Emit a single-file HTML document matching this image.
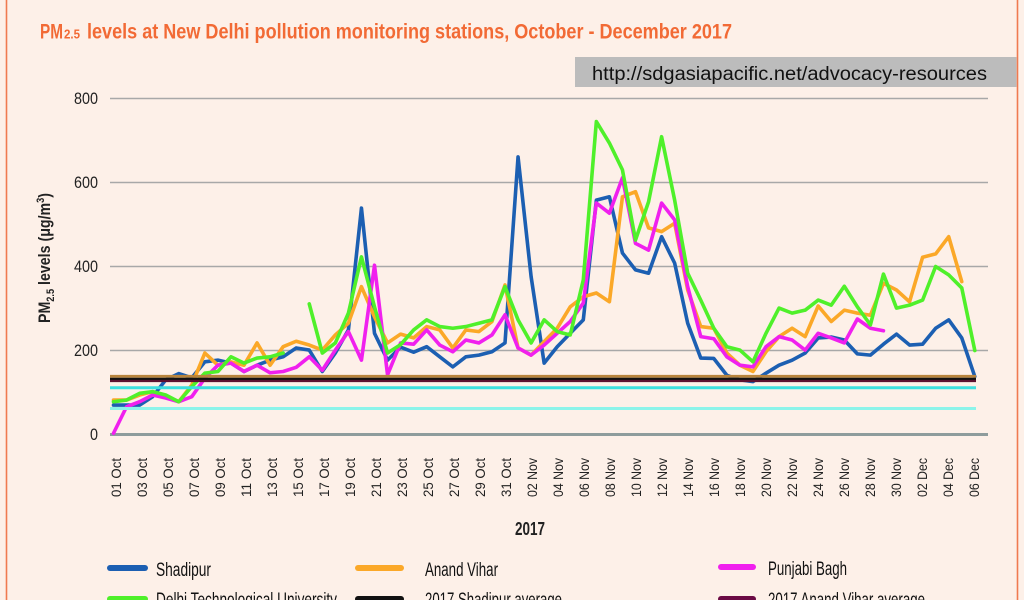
<!DOCTYPE html>
<html><head><meta charset="utf-8"><style>
html,body{margin:0;padding:0;background:#fdf0e8;}
svg{display:block;}
text{font-family:"Liberation Sans Narrow","Liberation Sans",sans-serif;}
</style></head><body>
<svg width="1024" height="600" viewBox="0 0 1024 600" xmlns="http://www.w3.org/2000/svg">
<rect width="1024" height="600" fill="#fdf0e8"/>
<line x1="6.5" y1="0" x2="6.5" y2="600" stroke="#f07a50" stroke-width="1.6"/>
<line x1="1017.5" y1="0" x2="1017.5" y2="600" stroke="#f07a50" stroke-width="1.6"/>
<!-- title -->
<text x="40" y="38.5" font-size="21" font-weight="bold" fill="#f26a35" textLength="23" lengthAdjust="spacingAndGlyphs">PM</text>
<text x="64" y="38.5" font-size="13" font-weight="bold" fill="#f26a35" textLength="16" lengthAdjust="spacingAndGlyphs">2.5</text>
<text x="87" y="38.5" font-size="21" font-weight="bold" fill="#f26a35" textLength="645" lengthAdjust="spacingAndGlyphs">levels at New Delhi pollution monitoring stations, October - December 2017</text>
<!-- url box -->
<rect x="575" y="57" width="441.5" height="30" fill="#bcbcbc"/>
<text x="592" y="80" font-size="19" fill="#111" textLength="395" lengthAdjust="spacingAndGlyphs">http://sdgasiapacific.net/advocacy-resources</text>
<!-- gridlines -->
<g stroke="#a8a8a8" stroke-width="1.6">
<line x1="110" y1="98.5" x2="988" y2="98.5"/>
<line x1="110" y1="182.5" x2="988" y2="182.5"/>
<line x1="110" y1="266.5" x2="988" y2="266.5"/>
<line x1="110" y1="350.5" x2="988" y2="350.5"/>
</g>
<line x1="110" y1="434.5" x2="988" y2="434.5" stroke="#8e9c9c" stroke-width="3"/>
<!-- y labels -->
<g font-size="17" fill="#222" text-anchor="end">
<text x="98" y="104" textLength="24" lengthAdjust="spacingAndGlyphs">800</text>
<text x="98" y="188" textLength="24" lengthAdjust="spacingAndGlyphs">600</text>
<text x="98" y="272" textLength="24" lengthAdjust="spacingAndGlyphs">400</text>
<text x="98" y="356" textLength="24" lengthAdjust="spacingAndGlyphs">200</text>
<text x="98" y="440" textLength="8" lengthAdjust="spacingAndGlyphs">0</text>
</g>
<!-- y title -->
<text transform="translate(50,258) rotate(-90)" text-anchor="middle" font-size="17" font-weight="bold" fill="#222" textLength="130" lengthAdjust="spacingAndGlyphs">PM<tspan font-size="11" dy="4">2.5</tspan><tspan dy="-4"> levels (μg/m</tspan><tspan font-size="11" dy="-6">3</tspan><tspan dy="6">)</tspan></text>
<!-- series -->
<g transform="translate(113.5,434.5) scale(13.05,-0.42)" fill="none" stroke-linejoin="round" stroke-linecap="round">
<polyline vector-effect="non-scaling-stroke" stroke="#1c5fb2" stroke-width="3.6" points="0,70 1,70 2,70 3,90 4,130 5,145 6,135 7,173 8,177 9,170 10,150 11,165 12,177 13,185 14,206 15,201 16,150 17,194 18,249 19,539 20,241 21,177 22,208 23,196 24,209 25,185 26,161 27,185 28,189 29,197 30,218 31,661 32,376 33,170 34,209 35,241 36,273 37,558 38,566 39,432 40,392 41,384 42,471 43,408 44,265 45,182 46,181 47,141 48,130 49,126 50,146 51,165 52,177 53,194 54,230 55,232 56,225 57,192 58,189 59,215 60,239 61,213 62,215 63,253 64,273 65,230 66,138"/>
<polyline vector-effect="non-scaling-stroke" stroke="#fba828" stroke-width="3.6" points="0,82 1,82 2,94 3,102 4,90 5,78 6,118 7,194 8,165 9,173 10,165 11,218 12,165 13,209 14,222 15,213 16,201 17,237 18,265 19,352 20,280 21,218 22,239 23,230 24,257 25,249 26,206 27,249 28,245 29,269 30,356 31,206 32,189 33,221 34,253 35,304 36,328 37,337 38,316 39,566 40,578 41,492 42,483 43,503 44,344 45,257 46,253 47,194 48,165 49,150 50,197 51,233 52,253 53,233 54,306 55,269 56,296 57,289 58,284 59,360 60,344 61,316 62,422 63,430 64,471 65,364"/>
<polyline vector-effect="non-scaling-stroke" stroke="#f020ee" stroke-width="3.6" points="0,3 1,66 2,78 3,94 4,87 5,78 6,90 7,134 8,165 9,170 10,150 11,165 12,147 13,150 14,160 15,185 16,153 17,201 18,245 19,177 20,403 21,142 22,218 23,215 24,249 25,213 26,197 27,225 28,218 29,237 30,285 31,206 32,189 33,213 34,241 35,269 36,313 37,551 38,527 39,611 40,455 41,439 42,551 43,511 44,352 45,233 46,228 47,185 48,165 49,161 50,209 51,233 52,225 53,201 54,241 55,230 56,218 57,275 58,253 59,247"/>
<polyline vector-effect="non-scaling-stroke" stroke="#4ff02a" stroke-width="3.6" points="0,78 1,82 2,98 3,102 4,94 5,78 6,114 7,146 8,150 9,185 10,170 11,182 12,185 13,194"/>
<polyline vector-effect="non-scaling-stroke" stroke="#4ff02a" stroke-width="3.6" points="15,311 16,194 17,218 18,289 19,423 20,304 21,194 22,214 23,249 24,273 25,257 26,253 27,257 28,265 29,273 30,352 31,273 32,218 33,273 34,245 35,237 36,368 37,745 38,694 39,630 40,463 41,554 42,709 43,558 44,384 45,320 46,253 47,209 48,201 49,173 50,241 51,301 52,289 53,296 54,320 55,308 56,353 57,304 58,261 59,382 60,301 61,308 62,320 63,400 64,380 65,349 66,200"/>
</g>
<!-- averages -->
<line x1="110" y1="408.5" x2="976" y2="408.5" stroke="#8cf4ea" stroke-width="3"/>
<line x1="110" y1="387.8" x2="976" y2="387.8" stroke="#3ddede" stroke-width="3"/>
<line x1="110" y1="376.3" x2="976" y2="376.3" stroke="#b8843c" stroke-width="2.8"/>
<line x1="110" y1="379" x2="976" y2="379" stroke="#111" stroke-width="2.5"/>
<line x1="110" y1="381" x2="976" y2="381" stroke="#5c1030" stroke-width="2.2"/>
<!-- x labels -->
<g font-size="14" fill="#222" text-anchor="end">
<text transform="translate(121,458) rotate(-90)" textLength="39" lengthAdjust="spacingAndGlyphs">01 Oct</text>
<text transform="translate(147,458) rotate(-90)" textLength="39" lengthAdjust="spacingAndGlyphs">03 Oct</text>
<text transform="translate(173,458) rotate(-90)" textLength="39" lengthAdjust="spacingAndGlyphs">05 Oct</text>
<text transform="translate(199,458) rotate(-90)" textLength="39" lengthAdjust="spacingAndGlyphs">07 Oct</text>
<text transform="translate(225,458) rotate(-90)" textLength="39" lengthAdjust="spacingAndGlyphs">09 Oct</text>
<text transform="translate(251,458) rotate(-90)" textLength="39" lengthAdjust="spacingAndGlyphs">11 Oct</text>
<text transform="translate(277,458) rotate(-90)" textLength="39" lengthAdjust="spacingAndGlyphs">13 Oct</text>
<text transform="translate(303,458) rotate(-90)" textLength="39" lengthAdjust="spacingAndGlyphs">15 Oct</text>
<text transform="translate(329,458) rotate(-90)" textLength="39" lengthAdjust="spacingAndGlyphs">17 Oct</text>
<text transform="translate(355,458) rotate(-90)" textLength="39" lengthAdjust="spacingAndGlyphs">19 Oct</text>
<text transform="translate(381,458) rotate(-90)" textLength="39" lengthAdjust="spacingAndGlyphs">21 Oct</text>
<text transform="translate(407,458) rotate(-90)" textLength="39" lengthAdjust="spacingAndGlyphs">23 Oct</text>
<text transform="translate(433,458) rotate(-90)" textLength="39" lengthAdjust="spacingAndGlyphs">25 Oct</text>
<text transform="translate(459,458) rotate(-90)" textLength="39" lengthAdjust="spacingAndGlyphs">27 Oct</text>
<text transform="translate(485,458) rotate(-90)" textLength="39" lengthAdjust="spacingAndGlyphs">29 Oct</text>
<text transform="translate(511,458) rotate(-90)" textLength="39" lengthAdjust="spacingAndGlyphs">31 Oct</text>
<text transform="translate(537,458) rotate(-90)" textLength="39" lengthAdjust="spacingAndGlyphs">02 Nov</text>
<text transform="translate(563,458) rotate(-90)" textLength="39" lengthAdjust="spacingAndGlyphs">04 Nov</text>
<text transform="translate(589,458) rotate(-90)" textLength="39" lengthAdjust="spacingAndGlyphs">06 Nov</text>
<text transform="translate(615,458) rotate(-90)" textLength="39" lengthAdjust="spacingAndGlyphs">08 Nov</text>
<text transform="translate(641,458) rotate(-90)" textLength="39" lengthAdjust="spacingAndGlyphs">10 Nov</text>
<text transform="translate(667,458) rotate(-90)" textLength="39" lengthAdjust="spacingAndGlyphs">12 Nov</text>
<text transform="translate(693,458) rotate(-90)" textLength="39" lengthAdjust="spacingAndGlyphs">14 Nov</text>
<text transform="translate(719,458) rotate(-90)" textLength="39" lengthAdjust="spacingAndGlyphs">16 Nov</text>
<text transform="translate(745,458) rotate(-90)" textLength="39" lengthAdjust="spacingAndGlyphs">18 Nov</text>
<text transform="translate(771,458) rotate(-90)" textLength="39" lengthAdjust="spacingAndGlyphs">20 Nov</text>
<text transform="translate(797,458) rotate(-90)" textLength="39" lengthAdjust="spacingAndGlyphs">22 Nov</text>
<text transform="translate(823,458) rotate(-90)" textLength="39" lengthAdjust="spacingAndGlyphs">24 Nov</text>
<text transform="translate(849,458) rotate(-90)" textLength="39" lengthAdjust="spacingAndGlyphs">26 Nov</text>
<text transform="translate(875,458) rotate(-90)" textLength="39" lengthAdjust="spacingAndGlyphs">28 Nov</text>
<text transform="translate(901,458) rotate(-90)" textLength="39" lengthAdjust="spacingAndGlyphs">30 Nov</text>
<text transform="translate(927,458) rotate(-90)" textLength="39" lengthAdjust="spacingAndGlyphs">02 Dec</text>
<text transform="translate(953,458) rotate(-90)" textLength="39" lengthAdjust="spacingAndGlyphs">04 Dec</text>
<text transform="translate(979,458) rotate(-90)" textLength="39" lengthAdjust="spacingAndGlyphs">06 Dec</text>
</g>
<text x="530" y="535" text-anchor="middle" font-size="18" font-weight="bold" fill="#222" textLength="30" lengthAdjust="spacingAndGlyphs">2017</text>
<!-- legend -->
<g stroke-width="6" stroke-linecap="round">
<line x1="110" y1="568" x2="145" y2="568" stroke="#1c5fb2"/>
<line x1="358" y1="568" x2="401" y2="568" stroke="#fba828"/>
<line x1="721" y1="567" x2="753" y2="567" stroke="#f020ee"/>
<line x1="110" y1="599" x2="145" y2="599" stroke="#4ff02a"/>
<line x1="358" y1="599" x2="401" y2="599" stroke="#111"/>
<line x1="721" y1="599" x2="753" y2="599" stroke="#6b0a44"/>
</g>
<g font-size="19" fill="#111">
<text x="156" y="576" textLength="55" lengthAdjust="spacingAndGlyphs">Shadipur</text>
<text x="425" y="576" textLength="73" lengthAdjust="spacingAndGlyphs">Anand Vihar</text>
<text x="768" y="575" textLength="79" lengthAdjust="spacingAndGlyphs">Punjabi Bagh</text>
<text x="156" y="606" textLength="181" lengthAdjust="spacingAndGlyphs">Delhi Technological University</text>
<text x="425" y="606" textLength="137" lengthAdjust="spacingAndGlyphs">2017 Shadipur average</text>
<text x="768" y="606" textLength="157" lengthAdjust="spacingAndGlyphs">2017 Anand Vihar average</text>
</g>
</svg>
</body></html>
